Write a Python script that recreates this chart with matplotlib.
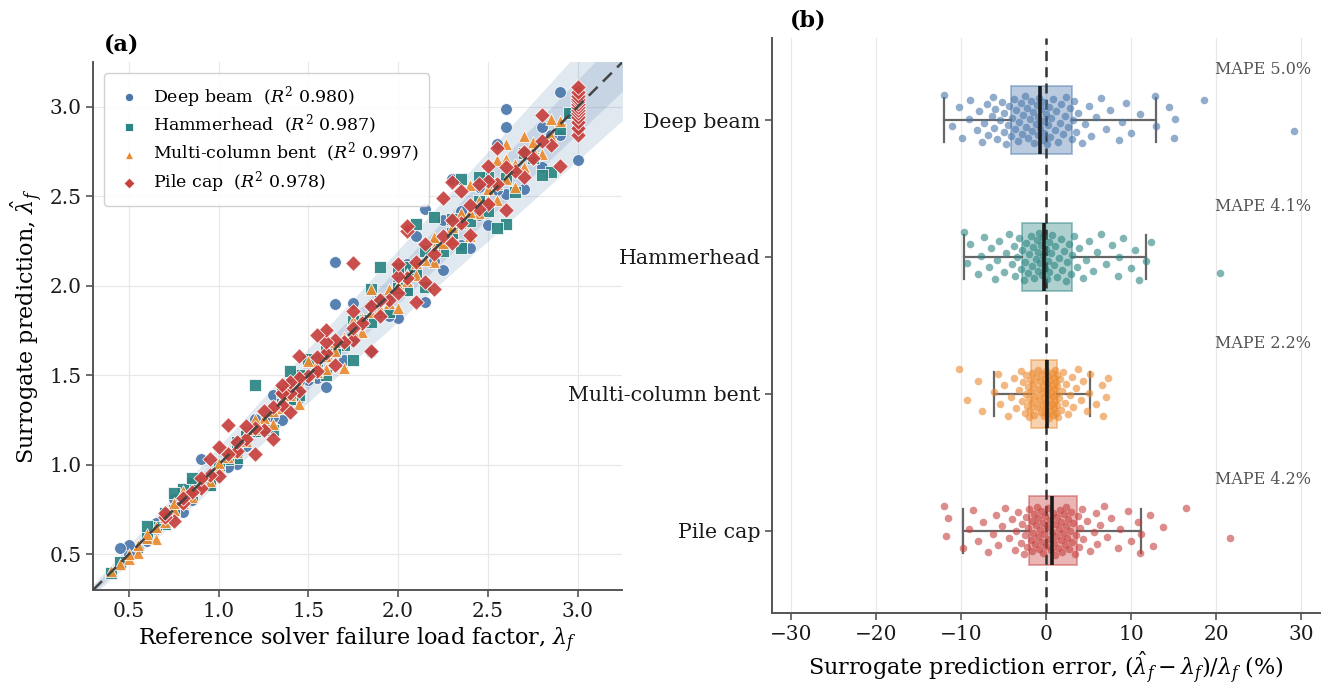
import numpy as np
import matplotlib
matplotlib.use("Agg")
import matplotlib.pyplot as plt
from matplotlib.colors import to_rgba

plt.rcParams.update({
    "font.family": "DejaVu Serif",
    "mathtext.fontset": "dejavuserif",
    "axes.edgecolor": "#555555",
    "axes.linewidth": 1.4,
    "xtick.color": "#555555",
    "ytick.color": "#555555",
    "xtick.labelcolor": "#1a1a1a",
    "ytick.labelcolor": "#1a1a1a",
    "xtick.major.size": 5,
    "ytick.major.size": 5,
    "xtick.major.width": 1.2,
    "ytick.major.width": 1.2,
    "xtick.labelsize": 14.5,
    "ytick.labelsize": 14.5,
})

CATEGORIES = ["Deep beam", "Hammerhead", "Multi-column bent", "Pile cap"]
COLORS = ["#4a77ab", "#2b8582", "#ec8a2e", "#c6403e"]
MARKERS = ["o", "s", "^", "D"]
R2 = [0.980, 0.987, 0.997, 0.978]
MAPE = [5.0, 4.1, 2.2, 4.2]

# reference solver load factor and relative surrogate error (%) per specimen
DB_REF = [1.85, 2.15, 1.60, 3.00, 2.00, 1.10, 0.80, 2.40, 1.35, 2.25, 1.70, 0.95,
          2.50, 1.05, 1.95, 2.70, 0.85, 1.45, 2.35, 1.25, 2.80, 0.60, 3.00, 1.55,
          1.15, 3.00, 2.05, 0.55, 1.75, 2.60, 1.40, 0.75, 2.20, 1.30, 1.90, 0.45,
          2.45, 1.00, 2.90, 1.50, 0.65, 2.10, 1.20, 2.75, 1.65, 0.90, 2.30, 1.80,
          1.35, 2.55, 0.70, 1.95, 2.85, 1.10, 2.40, 0.50, 1.60, 2.65, 1.25, 2.95,
          0.80, 2.00, 1.45, 2.20, 1.05, 2.70, 1.85, 0.60, 2.50, 1.55, 2.35, 1.15,
          2.80, 0.65, 2.05, 1.40, 2.45, 1.20, 0.85, 2.25, 1.50, 2.90, 1.30, 0.75,
          2.10, 1.75, 2.55, 0.50, 2.60, 2.30, 2.15, 0.90, 2.60, 1.65, 0.45, 1.65]
DB_ERR = [-12.0, -11.1, -10.2, -9.9, -9.1, -8.9, -8.1, -7.9, -7.5, -7.3, -6.9, -6.8,
          -6.4, -6.2, -6.1, -6.0, -5.8, -5.4, -5.2, -5.0, -4.9, -4.7, -4.5, -4.3,
          -4.1, -4.0, -3.8, -3.6, -3.5, -3.3, -3.2, -3.0, -2.8, -2.7, -2.5, -2.4,
          -2.2, -2.1, -1.9, -1.8, -1.6, -1.5, -1.4, -1.2, -1.1, -1.0, -0.9, -0.8,
          -0.7, -0.6, -0.5, -0.4, -0.3, -0.2, 0.0, 0.1, 0.2, 0.3, 0.5, 0.6,
          0.8, 1.0, 1.2, 1.4, 1.6, 1.8, 2.0, 2.2, 2.4, 2.6, 2.8, 3.0,
          3.2, 3.3, 3.5, 3.8, 4.2, 4.6, 5.0, 5.3, 5.9, 6.4, 7.0, 7.5,
          8.6, 8.9, 9.4, 10.0, 11.0, 12.8, 12.9, 14.5, 15.0, 15.2, 18.6, 29.2]

HH_REF = [2.60, 1.75, 2.55, 1.30, 2.85, 2.15, 0.95, 2.80, 1.60, 2.35,
          1.10, 1.95, 2.65, 0.70, 1.45, 3.00, 2.05, 1.25, 2.50, 3.00,
          1.85, 0.85, 2.25, 1.40, 3.00, 0.60, 1.70, 2.40, 1.05, 2.75,
          1.55, 0.40, 2.10, 1.20, 2.90, 1.35, 0.75, 2.00, 1.65, 2.30,
          1.00, 2.60, 1.50, 0.65, 2.20, 1.80, 2.95, 1.15, 2.45, 0.90,
          1.90, 2.70, 1.40, 0.45, 2.15, 1.60, 1.10, 2.05, 0.80, 1.75,
          2.30, 1.45, 0.70, 2.50, 1.35, 2.00, 0.85, 1.50, 2.45, 1.85,
          0.80, 2.20, 0.85, 1.40, 0.60, 2.35, 1.90, 2.10, 0.75, 1.20]
HH_ERR = [-9.7, -9.3, -8.9, -8.0, -7.6, -7.3, -6.7, -6.5, -6.0, -5.8,
          -5.5, -5.0, -4.7, -4.4, -4.0, -3.8, -3.6, -3.4, -3.2, -3.0,
          -2.8, -2.6, -2.5, -2.3, -2.1, -2.0, -1.8, -1.7, -1.5, -1.4,
          -1.2, -1.1, -1.0, -0.9, -0.8, -0.7, -0.6, -0.5, -0.4, -0.3,
          -0.1, 0.0, 0.1, 0.2, 0.3, 0.4, 0.6, 0.7, 0.9, 1.1,
          1.3, 1.5, 1.7, 1.9, 2.1, 2.3, 2.5, 2.7, 2.9, 3.0,
          3.3, 3.6, 3.9, 4.3, 4.7, 5.0, 5.5, 6.0, 6.5, 7.0,
          7.7, 8.5, 8.6, 9.0, 10.0, 10.5, 10.9, 11.8, 12.3, 20.5]

MCB_REF = [0.65, 1.70, 0.55, 1.45, 2.00, 0.50, 1.30, 2.40, 0.95, 1.60, 2.65, 0.85, 1.80,
           2.20, 1.10, 2.55, 0.70, 1.95, 1.35, 2.80, 1.00, 2.30, 1.55, 0.60, 2.10,
           1.25, 2.45, 0.80, 1.90, 2.70, 1.15, 0.45, 2.05, 1.65, 2.50, 0.90, 1.40, 2.25,
           1.05, 2.85, 0.75, 1.75, 2.15, 1.20, 2.60, 0.55, 1.50, 2.35, 1.85, 0.65,
           2.00, 1.30, 2.75, 0.95, 1.60, 2.40, 1.10, 0.50, 2.20, 1.45, 2.55, 0.85, 1.70,
           2.90, 1.25, 2.05, 0.70, 1.80, 2.45, 1.00, 2.30, 1.55, 0.40, 2.65, 1.35,
           2.10, 0.90, 1.95, 2.50, 1.15, 2.75, 0.60, 1.65, 2.35, 1.40, 2.85, 1.05, 2.20,
           1.75, 0.80, 2.60, 1.20, 0.75, 2.70, 1.50, 2.55, 0.80, 2.40, 1.85, 2.60]
MCB_ERR = [-10.2, -9.3, -8.0, -7.5, -6.1, -5.6, -5.4, -5.0, -4.5, -4.1, -3.8, -3.5, -3.2,
           -3.0, -2.8, -2.7, -2.5, -2.4, -2.3, -2.2, -2.1, -2.0, -1.95, -1.9, -1.85,
           -1.75, -1.7, -1.6, -1.5, -1.4, -1.3, -1.2, -1.1, -1.0, -0.9, -0.8, -0.7, -0.6,
           -0.5, -0.45, -0.4, -0.3, -0.25, -0.2, -0.15, -0.1, -0.05, 0.0, 0.05, 0.1,
           0.15, 0.2, 0.25, 0.3, 0.35, 0.4, 0.45, 0.5, 0.55, 0.6, 0.65, 0.7, 0.75,
           0.8, 0.85, 0.9, 0.95, 1.0, 1.05, 1.1, 1.15, 1.2, 1.2, 1.25, 1.25,
           1.3, 1.4, 1.5, 1.6, 1.7, 1.9, 2.0, 2.2, 2.4, 2.6, 2.8, 3.0, 3.2,
           3.5, 3.8, 4.1, 4.4, 4.8, 5.0, 5.2, 5.9, 6.6, 6.7, 7.0, 7.3]

PC_REF = [1.30, 1.20, 1.85, 2.20, 2.10, 0.75, 2.90, 1.40, 2.60, 1.00, 2.15, 1.65, 3.00,
          2.40, 1.25, 3.00, 1.90, 2.70, 0.90, 1.75, 3.00, 2.30, 1.45, 2.85, 1.10, 2.00,
          3.00, 1.55, 2.50, 0.80, 1.95, 2.75, 1.35, 3.00, 2.20, 1.70, 0.95, 2.45, 1.15,
          3.00, 1.80, 2.65, 1.50, 2.05, 0.85, 3.00, 2.35, 1.40, 2.80, 1.20, 3.00, 1.75,
          2.55, 1.05, 3.00, 1.90, 2.25, 0.70, 1.60, 3.00, 2.10, 1.30, 2.70, 0.80, 1.85,
          3.00, 2.40, 1.45, 2.60, 1.10, 2.00, 1.65, 3.00, 2.30, 0.90, 1.55, 2.50, 1.35,
          3.00, 1.25, 2.15, 0.70, 1.40, 2.45, 1.60, 2.80, 1.15, 2.00, 1.75, 2.50, 1.35,
          2.35, 0.95, 2.55, 1.60, 1.00, 2.25, 1.45, 1.55, 2.30, 2.05, 2.05, 1.05, 1.75]
PC_ERR = [-12.0, -11.8, -11.5, -9.8, -9.0, -8.6, -8.0, -7.4, -6.8, -6.2, -5.9, -5.6, -5.2,
          -4.8, -4.4, -4.0, -3.7, -3.5, -3.3, -3.0, -2.8, -2.6, -2.5, -2.3, -2.2, -2.1,
          -1.95, -1.8, -1.7, -1.6, -1.5, -1.4, -1.3, -1.2, -1.1, -1.0, -0.9, -0.8, -0.7,
          -0.6, -0.5, -0.4, -0.3, -0.2, -0.1, 0.0, 0.1, 0.2, 0.3, 0.45, 0.6, 0.7,
          0.8, 0.9, 1.0, 1.1, 1.2, 1.3, 1.4, 1.5, 1.6, 1.7, 1.8, 1.9, 2.0,
          2.1, 2.2, 2.3, 2.4, 2.5, 2.6, 2.7, 2.8, 2.9, 3.0, 3.2, 3.4, 3.55,
          3.7, 3.9, 4.0, 4.2, 4.4, 4.8, 5.2, 5.6, 5.9, 6.0, 6.3, 6.8, 7.2,
          7.6, 8.4, 8.7, 9.6, 10.0, 10.8, 11.0, 11.2, 12.2, 12.6, 13.75, 16.4, 21.6]

REFS = [DB_REF, HH_REF, MCB_REF, PC_REF]
ERRS = [DB_ERR, HH_ERR, MCB_ERR, PC_ERR]

LIM = (0.3, 3.25)
GRID = "#e8e8e8"

fig = plt.figure(figsize=(13.3, 6.9), dpi=100)
ax_a = fig.add_axes([0.070, 0.145, 0.398, 0.765])
ax_b = fig.add_axes([0.5805, 0.112, 0.412, 0.833])

# ---- (a) parity plot
xx = np.array(LIM)
ax_a.fill_between(xx, xx * 0.90, xx * 1.10, color="#4a77ab", alpha=0.17, lw=0, zorder=1)
ax_a.fill_between(xx, xx * 0.95, xx * 1.05, color="#4a77ab", alpha=0.17, lw=0, zorder=1)
ax_a.plot(xx, xx, ls=(0, (5, 3)), color="#444444", lw=1.8, zorder=5)

for name, ref, err, c, m, r2 in zip(CATEGORIES, REFS, ERRS, COLORS, MARKERS, R2):
    ref = np.array(ref)
    pred = ref * (1 + np.array(err) / 100)
    ax_a.scatter(ref, pred, s=72 if m != "D" else 64, marker=m, color=c, alpha=0.92,
                 edgecolor="white", linewidth=0.6, zorder=3,
                 label=f"{name}  ($R^2$ {r2:.3f})")

ax_a.set_xlim(LIM)
ax_a.set_ylim(LIM)
ax_a.set_xticks([0.5, 1.0, 1.5, 2.0, 2.5, 3.0])
ax_a.set_yticks([0.5, 1.0, 1.5, 2.0, 2.5, 3.0])
ax_a.grid(True, color=GRID, lw=0.9, zorder=0)
ax_a.set_axisbelow(True)
for s in ("top", "right"):
    ax_a.spines[s].set_visible(False)
ax_a.set_xlabel(r"Reference solver failure load factor, $\lambda_f$", fontsize=16)
ax_a.set_ylabel(r"Surrogate prediction, $\hat{\lambda}_f$", fontsize=16)
leg = ax_a.legend(loc="upper left", fontsize=12.5, frameon=True, borderpad=0.6,
                  borderaxespad=0, handletextpad=0.5, handlelength=1.7,
                  labelspacing=0.22, markerscale=0.7, framealpha=0.9,
                  bbox_to_anchor=(0.021, 0.979))
leg.get_frame().set_edgecolor("#cccccc")
leg.get_frame().set_linewidth(1.0)
for h in leg.legend_handles:
    h.set_alpha(1)
ax_a.text(0.02, 1.012, "(a)", transform=ax_a.transAxes, fontsize=16,
          fontweight="bold", va="bottom", ha="left")

# ---- (b) error distribution
pos = np.arange(len(CATEGORIES))
bp = ax_b.boxplot(ERRS, positions=pos, vert=False, widths=0.5, whis=1.5,
                  showfliers=False, patch_artist=True, capwidths=0.32,
                  medianprops=dict(color="#1a1a1a", lw=2.6, zorder=6),
                  whiskerprops=dict(color="#666666", lw=1.6, zorder=3),
                  capprops=dict(color="#666666", lw=1.6, zorder=3),
                  boxprops=dict(lw=1.4, zorder=2))
for patch, c in zip(bp["boxes"], COLORS):
    patch.set_facecolor(to_rgba(c, 0.38))
    patch.set_edgecolor(to_rgba(c, 0.45))

ax_b.axvline(0, ls=(0, (4, 2.5)), color="#333333", lw=1.8, zorder=4)

for i, (err, c) in enumerate(zip(ERRS, COLORS)):
    n = len(err)
    jit = ((np.arange(n) * 0.6180339887) % 1.0 - 0.5) * 0.36
    ax_b.scatter(err, i + jit, s=30, color=c, alpha=0.6, linewidth=0, zorder=5)
    ax_b.text(31.1, i - 0.37, f"MAPE {MAPE[i]:.1f}%", fontsize=11.5, color="#555555",
              ha="right", va="center")

ax_b.set_xlim(-32.2, 32.2)
ax_b.set_ylim(3.6, -0.6)
ax_b.set_yticks(pos)
ax_b.set_yticklabels(CATEGORIES, fontsize=14.8)
ax_b.set_xticks([-30, -20, -10, 0, 10, 20, 30])
ax_b.grid(True, axis="x", color=GRID, lw=0.9, zorder=0)
ax_b.set_axisbelow(True)
for s in ("top", "right"):
    ax_b.spines[s].set_visible(False)
ax_b.set_xlabel(r"Surrogate prediction error, $(\hat{\lambda}_f - \lambda_f)/\lambda_f$ (%)",
                fontsize=16)
ax_b.text(0.033, 1.012, "(b)", transform=ax_b.transAxes, fontsize=16,
          fontweight="bold", va="bottom", ha="left")

fig.savefig("out.png", dpi=100)
